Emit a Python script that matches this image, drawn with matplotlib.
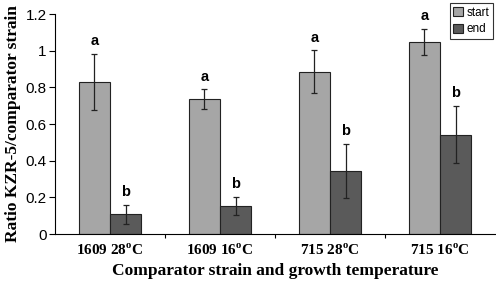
import matplotlib
matplotlib.use("Agg")
import matplotlib.pyplot as plt
import numpy as np

plt.rcParams['mathtext.fontset'] = 'custom'
plt.rcParams['mathtext.rm'] = 'Liberation Serif:bold'
plt.rcParams['mathtext.bf'] = 'Liberation Serif:bold'

categories = [r'1609 28$^{\mathrm{o}}$C', r'1609 16$^{\mathrm{o}}$C',
              r'715 28$^{\mathrm{o}}$C', r'715 16$^{\mathrm{o}}$C']
start_vals = [0.83, 0.736, 0.885, 1.048]
start_err = [0.153, 0.053, 0.118, 0.071]
end_vals = [0.107, 0.153, 0.345, 0.542]
end_err = [0.051, 0.049, 0.147, 0.156]
start_letters = ['a', 'a', 'a', 'a']
end_letters = ['b', 'b', 'b', 'b']
yticks = [0, 0.2, 0.4, 0.6, 0.8, 1, 1.2]
ytick_labels = ['0', '0.2', '0.4', '0.6', '0.8', '1', '1.2']

fig = plt.figure(figsize=(4.96, 2.84), dpi=100)
ax = fig.add_axes([55/496, 50/284, 440/496, 220/284])

x = np.arange(len(categories))
w = 0.285
ax.bar(x - w/2, start_vals, w, color='#a6a6a6', edgecolor='#222222', linewidth=0.8,
       yerr=start_err, error_kw=dict(ecolor='#222222', elinewidth=0.9, capsize=2.5, capthick=0.9),
       label='start')
ax.bar(x + w/2, end_vals, w, color='#5a5a5a', edgecolor='#222222', linewidth=0.8,
       yerr=end_err, error_kw=dict(ecolor='#222222', elinewidth=0.9, capsize=2.5, capthick=0.9),
       label='end')

for i in range(len(categories)):
    ax.annotate(start_letters[i], (x[i] - w/2, start_vals[i] + start_err[i]),
                xytext=(0, 4), textcoords='offset points', ha='center', va='bottom',
                fontsize=10.5, fontweight='bold', family='Liberation Sans')
    ax.annotate(end_letters[i], (x[i] + w/2, end_vals[i] + end_err[i]),
                xytext=(0, 4), textcoords='offset points', ha='center', va='bottom',
                fontsize=10.5, fontweight='bold', family='Liberation Sans')

ax.set_xlim(-0.5, 3.5)
ax.set_ylim(0, 1.2)
ax.set_yticks(yticks)
ax.set_yticklabels(ytick_labels, family='Liberation Sans', fontsize=11)
ax.set_xticks([0.5, 1.5, 2.5])
ax.set_xticklabels([])
ax.set_xticks(x, minor=True)
ax.set_xticklabels(categories, minor=True, family='Liberation Serif', fontweight='bold', fontsize=11)
ax.tick_params(axis='x', which='minor', length=0, pad=6)
ax.tick_params(axis='x', which='major', length=3, width=0.8, direction='out')
ax.tick_params(axis='y', length=4, width=0.8, direction='out', pad=2)
for s in ['top', 'right']:
    ax.spines[s].set_visible(False)
for s in ['left', 'bottom']:
    ax.spines[s].set_linewidth(0.8)

ax.set_xlabel('Comparator strain and growth temperature', family='Liberation Serif',
              fontweight='bold', fontsize=12.5, labelpad=4)
ax.set_ylabel('Ratio KZR-5/comparator strain', family='Liberation Serif',
              fontweight='bold', fontsize=12.5, labelpad=3)

leg = ax.legend(loc='upper right', bbox_to_anchor=(1.0, 1.06), prop={'family': 'Liberation Sans', 'size': 8.5},
                frameon=True, fancybox=False, edgecolor='black', handlelength=0.8, handleheight=0.8,
                handletextpad=0.3, borderpad=0.3, labelspacing=0.4, borderaxespad=0.2)
leg.get_frame().set_linewidth(0.8)

fig.savefig('out.png', dpi=100)
